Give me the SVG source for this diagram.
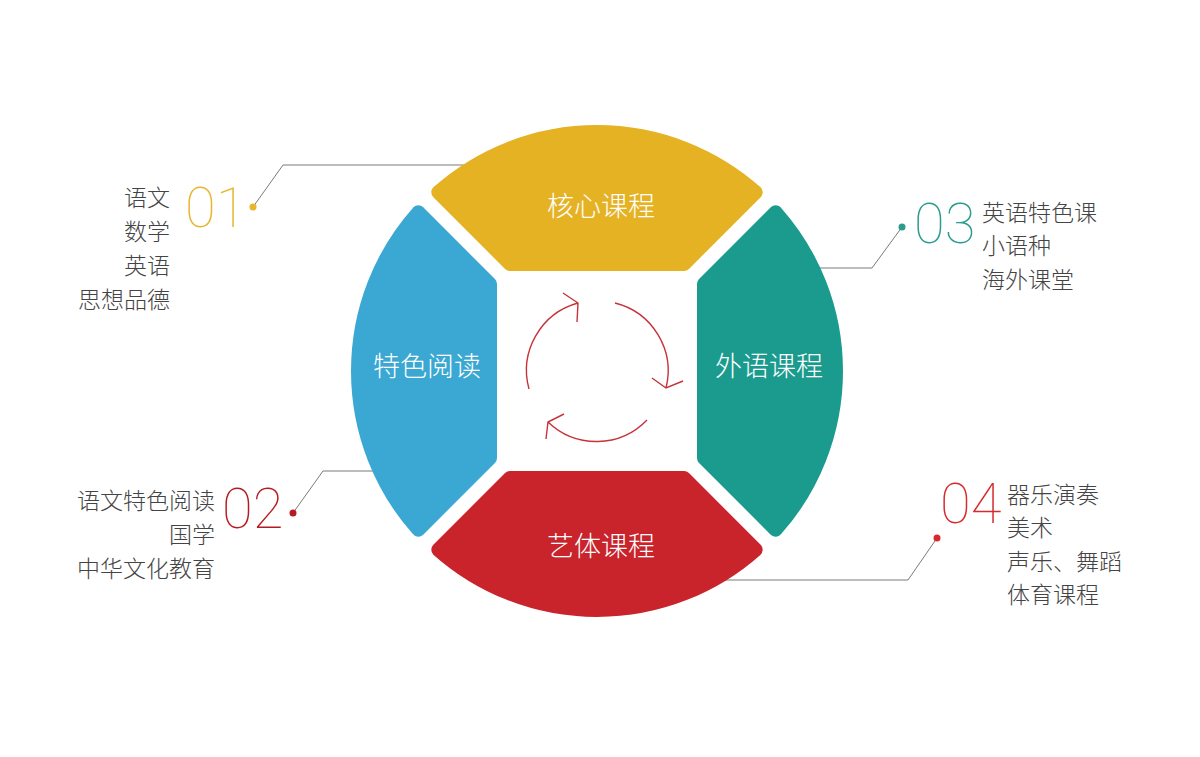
<svg xmlns="http://www.w3.org/2000/svg" width="1200" height="757" viewBox="0 0 1200 757">
<style>
.seg{stroke-width:14;stroke-linejoin:round}
.lbl{font-family:"Noto Sans CJK SC","Noto Sans",sans-serif;font-size:27px;font-weight:300;fill:#ffffff;text-anchor:middle}
.txt{font-family:"Noto Sans CJK SC","Noto Sans",sans-serif;font-size:23px;font-weight:300;fill:#444444}
.num{font-family:"Roboto","Lato",sans-serif;font-size:56px;font-weight:100}
.lead{fill:none;stroke:#7a7a7a;stroke-width:1}
.cyc{fill:none;stroke:#c8323a;stroke-width:1.4}
</style>
<rect width="1200" height="757" fill="#ffffff"/>
<g id="connectors">
<polyline class="lead" points="253,207 283,165 465,165"/>
<polyline class="lead" points="293,513 323,471 374,471"/>
<polyline class="lead" points="902,227 872,268 818,268"/>
<polyline class="lead" points="937,538 908,580 725,580"/>
</g>
<g id="core">
<path class="seg" fill="#e5b224" stroke="#e5b224" d="M510 264 L438.3 192.3 A239 239 0 0 1 755.7 192.3 L684 264 Z"/>
<text class="lbl" x="601" y="216">核心课程</text>
</g>
<g id="reading">
<path class="seg" fill="#3aa8d3" stroke="#3aa8d3" d="M490 284 L418.3 212.3 A239 239 0 0 0 418.3 529.7 L490 458 Z"/>
<text class="lbl" x="427" y="376">特色阅读</text>
</g>
<g id="language">
<path class="seg" fill="#1a9b8e" stroke="#1a9b8e" d="M704 284 L775.7 212.3 A239 239 0 0 1 775.7 529.7 L704 458 Z"/>
<text class="lbl" x="769" y="376">外语课程</text>
</g>
<g id="arts">
<path class="seg" fill="#c9232b" stroke="#c9232b" d="M510 478 L438.3 549.7 A239 239 0 0 0 755.7 549.7 L684 478 Z"/>
<text class="lbl" x="601" y="556">艺体课程</text>
</g>
<g id="cycle">
<path class="cyc" d="M529 389 A70 70 0 0 1 578 303 M563 293 L578 303 L577 322"/>
<path class="cyc" d="M615 303 A70 70 0 0 1 666 388 M652 378 L666 388 L683 381"/>
<path class="cyc" d="M647 420 A70 70 0 0 1 548 422 M564 414 L548 422 L546 439"/>
</g>
<g id="callout01">
<circle cx="253" cy="207" r="3.5" fill="#e8b530"/>
<text class="num" x="185" y="227" fill="#e8b530">01</text>
<text class="txt" text-anchor="end" x="170" y="206">语文</text>
<text class="txt" text-anchor="end" x="170" y="240">数学</text>
<text class="txt" text-anchor="end" x="170" y="274">英语</text>
<text class="txt" text-anchor="end" x="170" y="308">思想品德</text>
</g>
<g id="callout02">
<circle cx="293" cy="513" r="3.5" fill="#b51c22"/>
<text class="num" x="222" y="528" fill="#b51c22">02</text>
<text class="txt" text-anchor="end" x="215" y="509">语文特色阅读</text>
<text class="txt" text-anchor="end" x="215" y="543">国学</text>
<text class="txt" text-anchor="end" x="215" y="577">中华文化教育</text>
</g>
<g id="callout03">
<circle cx="902" cy="227" r="3.5" fill="#2a9c8e"/>
<text class="num" x="914" y="243" fill="#2a9c8e">03</text>
<text class="txt" x="982" y="221">英语特色课</text>
<text class="txt" x="982" y="254">小语种</text>
<text class="txt" x="982" y="288">海外课堂</text>
</g>
<g id="callout04">
<circle cx="937" cy="538" r="3.5" fill="#d52b2f"/>
<text class="num" x="940" y="523" fill="#d52b2f">04</text>
<text class="txt" x="1007" y="503">器乐演奏</text>
<text class="txt" x="1007" y="536">美术</text>
<text class="txt" x="1007" y="570">声乐、舞蹈</text>
<text class="txt" x="1007" y="603">体育课程</text>
</g>
</svg>
